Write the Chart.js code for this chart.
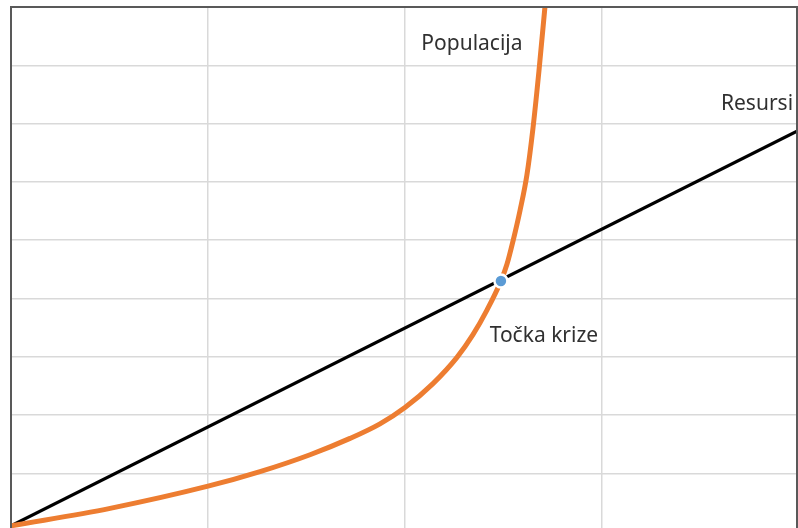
<!DOCTYPE html>
<html>
<head>
<meta charset="utf-8">
<script src="https://cdn.jsdelivr.net/npm/chart.js@4"></script>
<style>
  html, body { margin: 0; padding: 0; background: #fff; overflow: hidden; }
  #wrap { width: 798px; height: 528px; }
</style>
</head>
<body>
<div id="wrap"><canvas id="chart"></canvas></div>
<script>
// resources: straight line
const resursiX = [0, 3.99];
const resursiY = [0.1, 6.87];

// population: slow growth, then explodes
const populacijaX = [0, 0.503, 1.0, 1.264, 1.518, 1.721, 1.873, 2.0, 2.142, 2.264, 2.345, 2.416, 2.487, 2.518, 2.548, 2.584, 2.619, 2.650, 2.680, 2.711];
const populacijaY = [0.1, 0.40, 0.78, 1.03, 1.32, 1.60, 1.85, 2.13, 2.54, 2.99, 3.38, 3.80, 4.30, 4.59, 4.98, 5.51, 6.12, 6.93, 7.90, 9.02];

// crisis point
const krizaX = [2.487];
const krizaY = [4.30];

// text labels: [text, x, y (baseline), align]
const labels = [
    ['Populacija', 2.34, 8.26, 'center'],
    ['Resursi', 3.97, 7.24, 'right'],
    ['Točka krize', 2.43, 3.25, 'left']
];

const toPoints = (xs, ys) => xs.map((x, i) => ({ x: x, y: ys[i] }));

const frame = {
    id: 'frame',
    afterDraw(chart) {
        const ctx = chart.ctx;
        const a = chart.chartArea;
        const xs = chart.scales.x, ys = chart.scales.y;
        ctx.save();
        ctx.strokeStyle = '#595959';
        ctx.lineWidth = 2;
        ctx.beginPath();
        ctx.moveTo(a.left, a.bottom);
        ctx.lineTo(a.left, a.top);
        ctx.lineTo(a.right, a.top);
        ctx.lineTo(a.right, a.bottom);
        ctx.stroke();

        ctx.font = '21px "Noto Sans"';
        ctx.fillStyle = '#303030';
        ctx.textBaseline = 'alphabetic';
        labels.forEach(l => {
            ctx.textAlign = l[3];
            ctx.fillText(l[0], xs.getPixelForValue(l[1]), ys.getPixelForValue(l[2]));
        });
        ctx.restore();
    }
};

new Chart(document.getElementById('chart'), {
    type: 'scatter',
    data: {
        datasets: [
            {
                label: 'Točka krize',
                data: toPoints(krizaX, krizaY),
                pointRadius: 6.5,
                pointBackgroundColor: '#5b9bd5',
                pointBorderColor: '#ffffff',
                pointBorderWidth: 2.5,
                order: 0
            },
            {
                label: 'Resursi',
                data: toPoints(resursiX, resursiY),
                showLine: true,
                borderColor: '#000000',
                borderWidth: 3.2,
                pointRadius: 0,
                order: 2
            },
            {
                label: 'Populacija',
                data: toPoints(populacijaX, populacijaY),
                showLine: true,
                cubicInterpolationMode: 'monotone',
                borderColor: '#ed7d31',
                borderWidth: 5,
                pointRadius: 0,
                order: 1
            }
        ]
    },
    options: {
        responsive: true,
        maintainAspectRatio: false,
        animation: false,
        layout: { autoPadding: false, padding: { left: 11, top: 7, right: 1, bottom: 0 } },
        plugins: {
            legend: { display: false },
            tooltip: { enabled: false }
        },
        scales: {
            x: {
                type: 'linear',
                min: 0,
                max: 3.99,
                ticks: { display: false, stepSize: 1 },
                grid: { color: '#d9d9d9', lineWidth: 1.5, drawTicks: false },
                border: { display: false },
                afterBuildTicks: s => { s.ticks = s.ticks.filter(t => Number.isInteger(t.value)); }
            },
            y: {
                min: 0.063,
                max: 9,
                ticks: { display: false, stepSize: 1 },
                grid: { color: '#d9d9d9', lineWidth: 1.5, drawTicks: false },
                border: { display: false },
                afterBuildTicks: s => { s.ticks = s.ticks.filter(t => Number.isInteger(t.value)); }
            }
        }
    },
    plugins: [frame]
});
</script>
</body>
</html>
